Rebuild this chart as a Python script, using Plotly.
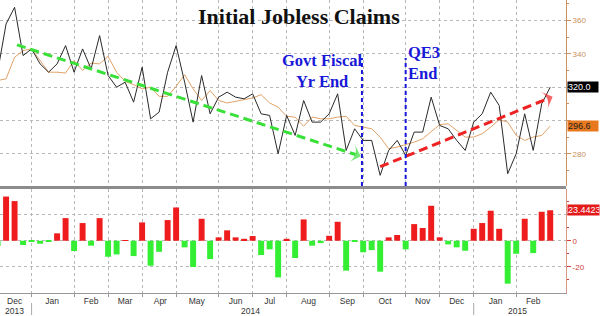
import pandas as pd
import plotly.graph_objects as go

# ---- data (weekly, release dates) ----
weeks = pd.date_range(start="2013-12-05", periods=66, freq="7D")

claims = [329, 358, 368, 339, 343, 334, 329, 334, 345, 329, 343, 331, 351, 327, 320, 323,
          311, 332, 301, 305, 329, 345, 323, 299, 327, 304, 314, 317, 314, 313, 316, 304,
          303, 280, 303, 291, 312, 299, 299, 304, 316, 282, 295, 288, 288, 267, 282, 288,
          279, 293, 293, 314, 297, 295, 288, 282, 299, 304, 317, 309, 268, 280, 304, 282,
          310, 320.0]

avg4 = [324, 325, 338, 342, 343, 336, 329, 329, 328.5, 336, 330, 334.5, 334, 338.5, 329, 323.5,
        321.5, 319, 320, 314.5, 314.5, 320.5, 327.5, 319, 312, 318, 312, 310.5, 311.5, 312.5, 313.5, 315.5,
        310.5, 308, 302.5, 302, 296.5, 302, 301, 301, 302, 302.5, 297, 296, 295, 290, 283, 284,
        285.5, 287, 289, 293, 297.5, 298, 294, 290, 290, 292, 296, 300.5, 299, 291, 288, 290,
        291, 296.6]

diff = [-4, 34, 30.5, -3.3, -0.5, -2.3, -0.5, 5.7, 17.4, -7.9, 13.6, -3.8, 17.4, -12.3, -10.5, 0.5,
        -11.8, 14.1, -19.2, -8.5, 15.9, 25.6, -5.1, -20.2, 16.9, -14.1, 2.6, 8, 2.6, 1.5, 3.6, -11,
        -6.6, -28.2, 1.5, -13.3, 16.4, -3.8, -1.8, 3.8, 14.6, -23, -0.5, -8.9, -7.2, -23.8, 2.6, 4.4,
        -6.6, 12.8, 9.8, 26.9, 2.6, -2.8, -5.1, -7.7, 9.2, 13.6, 23.1, 9.2, -33, -10, 16.9, -9.5,
        22.3, 23.4423]

month_labels = ["Dec", "Jan", "Feb", "Mar", "Apr", "May", "Jun", "Jul", "Aug", "Sep", "Oct",
                "Nov", "Dec", "Jan", "Feb"]
month_label_dates = ["2013-12-19", "2014-01-19", "2014-02-20", "2014-03-20", "2014-04-18",
                     "2014-05-18", "2014-06-19", "2014-07-17", "2014-08-18", "2014-09-19",
                     "2014-10-20", "2014-11-20", "2014-12-18", "2015-01-19", "2015-02-19"]
month_bounds = ["2014-01-02", "2014-02-06", "2014-03-06", "2014-04-03", "2014-05-01",
                "2014-06-05", "2014-07-03", "2014-07-31", "2014-09-04", "2014-10-02",
                "2014-11-06", "2014-12-04", "2015-01-01", "2015-02-05"]
years = ["2013", "2014", "2015"]
year_dates = ["2013-12-19", "2014-07-01", "2015-02-06"]
year_seps = ["2014-01-02", "2015-01-01"]

top_ticks = [280, 300, 320, 340, 360]
top_tick_text = ["280", "", "", "340", "360"]      # 300 / 320 sit behind the value boxes
bot_ticks = [-20, 0, 20]
bot_tick_text = ["-20", "0", ""]                    # 20 sits behind the value box

green_arrow_x = ["2013-12-21", "2014-09-30"]
green_arrow_y = [345.4, 278.5]
red_arrow_x = ["2014-10-16", "2015-03-07"]
red_arrow_y = [272.2, 314.3]
fiscal_date = "2014-10-01"
qe3_date = "2014-11-06"

X_RANGE = ["2013-12-07", "2015-03-18"]
TOP_RANGE = [260.6, 372.4]
BOT_RANGE = [-40.2, 39.8]

TAN = "#c8915f"
RED_AX = "#d23c3c"
GRID = "#b8b8b8"
BLUE = "#1818d8"

fig = go.Figure()

fig.add_trace(go.Scatter(x=weeks, y=avg4, mode="lines", line=dict(color="#e0a268", width=1),
                         xaxis="x2", yaxis="y", hoverinfo="skip"))
fig.add_trace(go.Scatter(x=weeks, y=claims, mode="lines", line=dict(color="#2a2a2a", width=1),
                         xaxis="x2", yaxis="y", hoverinfo="skip"))

fig.add_trace(go.Bar(x=weeks, y=diff,
                     marker=dict(color=["#ee1c1c" if v >= 0 else "#33ee33" for v in diff],
                                 line=dict(width=0)),
                     xaxis="x", yaxis="y2", hoverinfo="skip"))

for ax_, ay_, col in [(green_arrow_x, green_arrow_y, "#38e038"), (red_arrow_x, red_arrow_y, "#ee2222")]:
    fig.add_trace(go.Scatter(x=ax_, y=ay_, mode="lines+markers",
                             line=dict(color=col, width=3, dash="9px,5px"),
                             marker=dict(symbol=["circle", "arrow-wide"], size=[0, 14], color=col,
                                         angleref="previous", line=dict(width=0)),
                             xaxis="x2", yaxis="y", hoverinfo="skip"))

shapes = []
for d in [fiscal_date, qe3_date]:
    shapes.append(dict(type="line", xref="x2", yref="y", x0=d, x1=d, y0=TOP_RANGE[0], y1=337.6,
                       line=dict(color=BLUE, width=2, dash="4px,3px"), layer="above"))
# panel separator
shapes.append(dict(type="line", xref="paper", yref="paper", x0=0, x1=1, y0=0.3601, y1=0.3601,
                   line=dict(color="#8c8c8c", width=3)))
for d in year_seps:
    shapes.append(dict(type="line", xref="x", yref="paper", x0=d, x1=d, y0=-0.034, y1=-0.075,
                       line=dict(color="#aaaaaa", width=1)))

H = 293.0
def py(p):
    return (H - p) / H

annotations = [
    dict(text="<b>Initial Jobless Claims</b>", xref="paper", yref="paper", x=299 / 566, y=py(17),
         yanchor="middle", showarrow=False,
         font=dict(family="Liberation Serif", size=22, color="#111111")),
    dict(text="<b>Govt Fiscal<br>Yr End</b>", xref="paper", yref="paper", x=323 / 566, y=py(71),
         yanchor="middle", showarrow=False, align="center",
         font=dict(family="Liberation Serif", size=16.5, color=BLUE)),
    dict(text="<b>QE3<br>End</b>", xref="paper", yref="paper", x=406 / 566, y=py(63),
         xanchor="left", yanchor="middle", align="left", showarrow=False,
         font=dict(family="Liberation Serif", size=16.5, color=BLUE)),
    dict(text="320.0", xref="paper", yref="y", x=567 / 566, y=320, xanchor="left",
         yanchor="middle", showarrow=False,
         bgcolor="#000000", width=30, align="left", borderpad=0,
         font=dict(family="Liberation Sans", size=9, color="#ffffff")),
    dict(text="296.6", xref="paper", yref="y", x=567 / 566, y=296.6, xanchor="left",
         yanchor="middle", showarrow=False,
         bgcolor="#e8781e", width=30, align="left", borderpad=0,
         font=dict(family="Liberation Sans", size=9, color="#222222")),
    dict(text="23.4423", xref="paper", yref="y2", x=567 / 566, y=diff[-1], xanchor="left",
         yanchor="middle", showarrow=False, bgcolor="#e21a1a", width=31, align="left", borderpad=0,
         font=dict(family="Liberation Sans", size=9, color="#ffffff")),
]
for t, d in zip(years, year_dates):
    annotations.append(dict(text=t, xref="x", yref="paper", x=d, y=py(311), yanchor="middle",
                            showarrow=False,
                            font=dict(family="Liberation Sans", size=8.5, color="#333333")))

minor_grid = dict(tickmode="array", tickvals=month_bounds, showgrid=True, gridcolor=GRID,
                  griddash="dot", gridwidth=1)

fig.update_layout(
    width=600, height=316,
    margin=dict(l=0, r=34, t=0, b=23),
    paper_bgcolor="white", plot_bgcolor="white",
    showlegend=False, bargap=0.3,
    shapes=shapes, annotations=annotations,
    xaxis=dict(type="date", anchor="y2", domain=[0, 1], range=X_RANGE,
               tickmode="array", tickvals=month_label_dates, ticktext=month_labels,
               ticks="", showgrid=False, showline=True, linecolor="#999999", linewidth=1,
               tickfont=dict(family="Liberation Sans", size=8.5, color="#333333"),
               minor=dict(ticks="outside", ticklen=3, tickcolor="#999999", **minor_grid),
               zeroline=False),
    xaxis2=dict(type="date", anchor="y", matches="x", range=X_RANGE, showticklabels=False,
                tickmode="array", tickvals=month_label_dates, ticks="", showgrid=False,
                minor=dict(ticks="", **minor_grid), showline=False, zeroline=False),
    yaxis=dict(domain=[py(186), 1], side="right", anchor="x2", range=TOP_RANGE,
               tickmode="array", tickvals=top_ticks, ticktext=top_tick_text,
               ticks="outside", ticklen=4, tickcolor=TAN,
               showline=True, linecolor=TAN, linewidth=1,
               showgrid=True, gridcolor=GRID, griddash="dot", zeroline=False,
               tickfont=dict(family="Liberation Sans", size=8, color=TAN),
               minor=dict(tickmode="array", tickvals=[270, 290, 310, 330, 350, 370],
                          ticks="outside", ticklen=2, tickcolor=TAN)),
    yaxis2=dict(domain=[0, py(189)], side="right", anchor="x", range=BOT_RANGE,
                tickmode="array", tickvals=bot_ticks, ticktext=bot_tick_text,
                ticks="outside", ticklen=4, tickcolor=RED_AX,
                showline=True, linecolor="#d89a80", linewidth=1,
                showgrid=True, gridcolor=GRID, griddash="dot", zeroline=False,
                tickfont=dict(family="Liberation Sans", size=8, color=RED_AX),
                minor=dict(tickmode="array", tickvals=[-30, -10, 10, 30],
                           ticks="outside", ticklen=2, tickcolor=RED_AX)),
)

fig.write_html("out.html")
